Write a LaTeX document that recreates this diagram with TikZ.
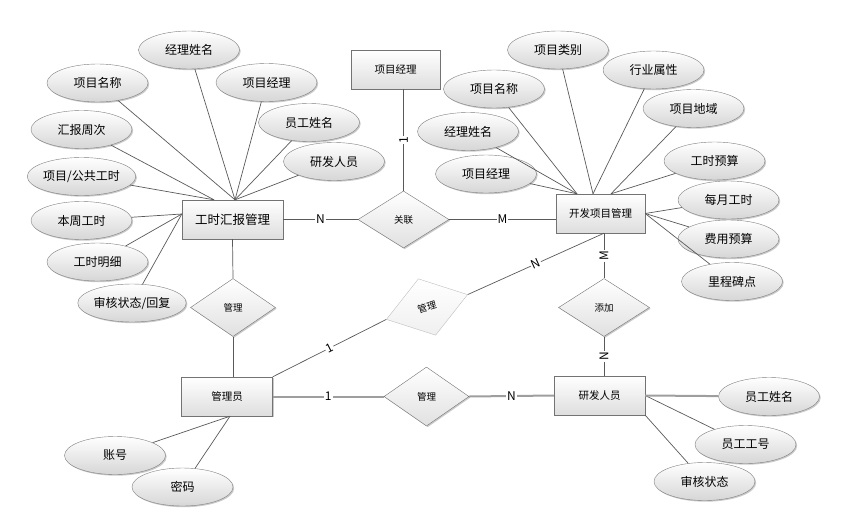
\documentclass[tikz,border=0pt]{standalone}
\usepackage{fontspec}
\setmainfont{Noto Sans CJK SC}
\usepackage{tikz}
\usetikzlibrary{shapes.geometric}
\usetikzlibrary{shadows}
\usetikzlibrary{positioning}
\tikzset{
  boxshadow/.style={drop shadow={shadow xshift=1.2pt, shadow yshift=-1.2pt, opacity=0.35, fill=black!60}},
  entity/.style={rectangle, draw=black!55, top color=white, bottom color=black!13, minimum width=89pt, minimum height=39pt, inner sep=2pt, font=\fontsize{10.5}{12}\selectfont, boxshadow},
  attr/.style={ellipse, draw=black!50, top color=white, bottom color=black!16, minimum width=101pt, minimum height=38pt, inner sep=0pt, font=\fontsize{12}{14}\selectfont, boxshadow},
  relation/.style={diamond, draw=black!55, top color=white, bottom color=black!12, minimum width=85pt, minimum height=58pt, inner sep=0pt, font=\fontsize{9.5}{11}\selectfont, boxshadow},
  faintrel/.style={diamond, draw=black!25, top color=white, bottom color=black!6, minimum width=85pt, minimum height=59pt, inner sep=0pt, font=\fontsize{9.5}{11}\selectfont},
  conn/.style={draw=black!65, line width=0.7pt},
  fatconn/.style={draw=black!38, line width=2pt},
  card/.style={fill=white, inner sep=1pt, font=\fontsize{12}{12}\selectfont}
}

\begin{document}
\begin{tikzpicture}[x=1pt,y=1pt]
\useasboundingbox (0,0) rectangle (845,-530);
% entities
\node [entity, minimum width=101pt, font=\fontsize{12.5}{14}\selectfont] (gshb) at (232.5,-219.5) {工时汇报管理};
\node [entity] (xmjl) at (395.5,-69.5) {项目经理};
\node [entity] (kfxm) at (600.5,-213.5) {开发项目管理};
\node [entity, minimum width=91pt] (gly) at (227,-396.5) {管理员};
\node [entity, minimum width=91pt] (yfry) at (599.5,-395.5) {研发人员};
% relations
\node [relation, minimum width=91pt, minimum height=57pt] (guanlian) at (403.5,-219.5) {关联};
\node [relation] (guanli-a) at (233,-307.5) {管理};
\node [relation, minimum width=91pt] (tianjia) at (604,-307.5) {添加};
\node [relation, minimum height=59pt] (guanli-c) at (426.5,-396.5) {管理};
\node [faintrel, rotate=17] (guanli-b) at (427,-307) {管理};
% attributes of gshb
\node [attr] (a-jlxm) at (189,-50) {经理姓名};
\node [attr] (a-xmmc) at (97.5,-83) {项目名称};
\node [attr] (a-xmjl) at (266.5,-82.5) {项目经理};
\node [attr] (a-ygxm) at (309,-122.5) {员工姓名};
\node [attr] (a-yfry) at (334,-161.5) {研发人员};
\node [attr] (a-hbzc) at (81.5,-129.5) {汇报周次};
\node [attr] (a-gsgs) at (81.5,-176.5) {项目/公共工时};
\node [attr] (a-bzgs) at (81.5,-220.5) {本周工时};
\node [attr] (a-gsmx) at (97.5,-262) {工时明细};
\node [attr] (a-shzt) at (132,-303) {审核状态/回复};
% attributes of kfxm
\node [attr] (b-xmlb) at (558,-50) {项目类别};
\node [attr] (b-hysx) at (653.5,-70) {行业属性};
\node [attr] (b-xmmc) at (494,-89) {项目名称};
\node [attr] (b-xmdy) at (693.5,-108.5) {项目地域};
\node [attr] (b-jlxm) at (468,-131.5) {经理姓名};
\node [attr] (b-gsys) at (714.5,-161) {工时预算};
\node [attr] (b-xmjl) at (486,-174) {项目经理};
\node [attr] (b-mygs) at (728.5,-200) {每月工时};
\node [attr] (b-fyys) at (728.5,-239) {费用预算};
\node [attr] (b-lcbd) at (732,-281.5) {里程碑点};
% attributes of gly and yfry
\node [attr] (c-zh) at (115,-455.5) {账号};
\node [attr] (c-mm) at (182.5,-487) {密码};
\node [attr] (d-ygxm) at (769,-396.5) {员工姓名};
\node [attr] (d-yggh) at (745.5,-444.5) {员工工号};
\node [attr] (d-shzt) at (704.5,-481.5) {审核状态};
% connection points
\coordinate (gshb-n) at ([xshift=2.5pt]gshb.north);
\coordinate (gshb-nl) at ([xshift=-18.5pt]gshb.north);
\coordinate (gshb-w) at ([yshift=5.5pt]gshb.west);
\coordinate (kfxm-n1) at ([xshift=-23.5pt]kfxm.north);
\coordinate (kfxm-n2) at ([xshift=-7.5pt]kfxm.north);
\coordinate (kfxm-n3) at ([xshift=10.5pt]kfxm.north);
\coordinate (kfxm-s) at (tianjia.north |- kfxm.south);
\coordinate (gly-s) at ([xshift=3pt]gly.south);

\draw [conn] (a-jlxm) -- (gshb-n);
\draw [conn] (a-xmmc) -- (gshb-n);
\draw [conn] (a-xmjl) -- (gshb-n);
\draw [conn] (a-ygxm) -- (gshb-n);
\draw [conn] (a-yfry) -- (gshb-n);
\draw [conn] (a-hbzc) -- (gshb-nl);
\draw [conn] (a-gsgs) -- (gshb-nl);
\draw [conn] (a-bzgs) -- (gshb-w);
\draw [conn] (a-gsmx) -- (gshb-w);
\draw [conn] (a-shzt) -- (gshb-w);

\draw [conn] (b-xmmc) -- (kfxm-n1);
\draw [conn] (b-jlxm) -- (kfxm-n1);
\draw [conn] (b-xmjl) -- (kfxm-n1);
\draw [conn] (b-xmlb) -- (kfxm-n2);
\draw [conn] (b-hysx) -- (kfxm-n2);
\draw [conn] (b-xmdy) -- (kfxm-n3);
\draw [conn] (b-gsys) -- (kfxm-n3);
\draw [conn] (b-mygs) -- (kfxm.east);
\draw [conn] (b-fyys) -- (kfxm.east);
\draw [conn] (b-lcbd) -- (kfxm.east);

\draw [conn] (c-zh) -- (gly-s);
\draw [conn] (c-mm) -- (gly-s);
\draw [conn] (d-yggh) -- (yfry.east);
\draw [conn] (d-shzt) -- (yfry.south east);
\draw [fatconn] (yfry.east) -- (d-ygxm);

\draw [conn] (gshb.east) -- node [card] {N} (guanlian.west);
\draw [conn] (guanlian.east) -- node [card] {M} (kfxm.west |- guanlian.east);
\draw [conn] (guanlian.north |- xmjl.south) -- node [card, rotate=90] {1} (guanlian.north);
\draw [conn] (gshb.south) -- (guanli-a.north);
\draw [conn] (guanli-a.south) -- (guanli-a.south |- gly.north);
\draw [conn] (kfxm-s) -- node [card, rotate=90] {M} (tianjia.north);
\draw [conn] (tianjia.south) -- node [card, rotate=90] {N} (tianjia.south |- yfry.north);
\draw [conn] (gly.north east) -- node [card, sloped] {1} (guanli-b.west);
\draw [conn] (guanli-b.east) -- node [card, sloped] {N} (kfxm-s);
\draw [fatconn] (gly.east) -- node [card] {1} (guanli-c.west);
\draw [fatconn] (guanli-c.east) -- node [card] {N} (yfry.west);
\end{tikzpicture}
\end{document}
